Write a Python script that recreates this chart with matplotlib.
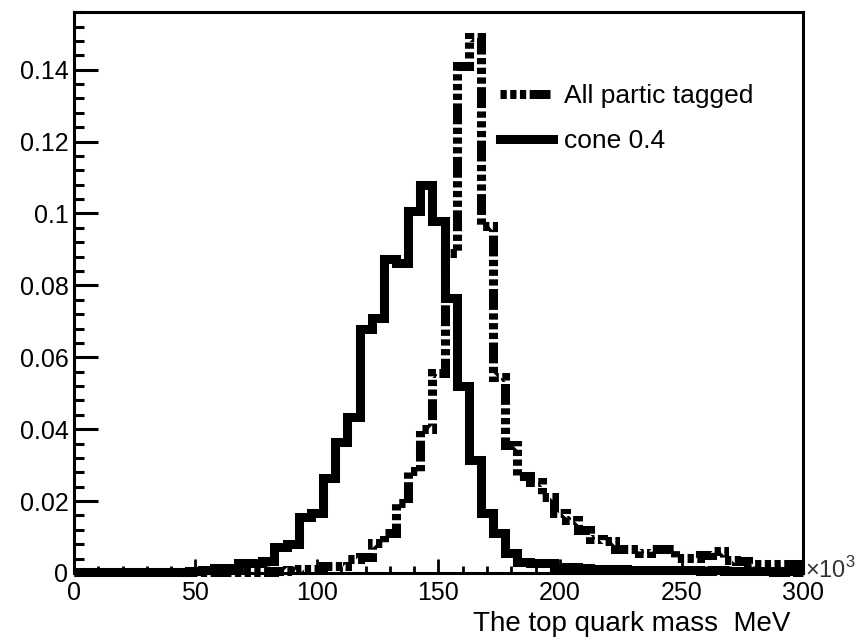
import numpy as np
import matplotlib
matplotlib.use("Agg")
import matplotlib.pyplot as plt
from matplotlib.ticker import MultipleLocator, FormatStrFormatter
from matplotlib.lines import Line2D

plt.rcParams['font.family'] = ['Liberation Sans', 'DejaVu Sans']
plt.rcParams['mathtext.fontset'] = 'custom'
plt.rcParams['mathtext.rm'] = 'Liberation Sans'
plt.rcParams['lines.scale_dashes'] = False

# bin edges (x in units of 10^3 MeV)
edges = [0.0] + [2.5 + 5 * i for i in range(60)] + [300.0]

all_partic = [
    0.0002, 0.0002, 0.0002, 0.0002, 0.0002, 0.0002, 0.0002, 0.0002, 0.0002, 0.0002,  # 0-45
    0.0002, 0.0003, 0.0003, 0.0003, 0.0003, 0.0004, 0.0004, 0.0005, 0.0008, 0.001,   # 50-95
    0.001, 0.002, 0.002, 0.004, 0.0045, 0.0083, 0.011, 0.0195, 0.0285, 0.040,       # 100-145
    0.0555, 0.089, 0.141, 0.149, 0.0965, 0.0546, 0.0357, 0.027, 0.0253, 0.021,      # 150-195
    0.0167, 0.0148, 0.012, 0.0095, 0.0088, 0.0067, 0.0067, 0.0055, 0.0066, 0.0066,  # 200-245
    0.0042, 0.0042, 0.005, 0.0062, 0.0035, 0.0032, 0.0025, 0.0025, 0.0025, 0.0025,  # 250-295
    0.0025,                                                                          # 300
]

cone04 = [
    0.0003, 0.0003, 0.0003, 0.0003, 0.0003, 0.0003, 0.0003, 0.0003, 0.0003, 0.0003,  # 0-45
    0.0005, 0.0008, 0.0014, 0.0014, 0.0028, 0.0028, 0.0034, 0.0073, 0.0082, 0.0156,  # 50-95
    0.0166, 0.0265, 0.0363, 0.0433, 0.068, 0.0708, 0.0873, 0.0863, 0.1007, 0.108,    # 100-145
    0.098, 0.0766, 0.052, 0.0315, 0.0166, 0.011, 0.0056, 0.003, 0.0029, 0.0029,      # 150-195
    0.0015, 0.0018, 0.0015, 0.0012, 0.001, 0.001, 0.0008, 0.0009, 0.0008, 0.0008,    # 200-245
    0.0007, 0.0008, 0.0006, 0.0008, 0.0006, 0.0005, 0.0006, 0.0005, 0.0004, 0.0005,  # 250-295
    0.0004,                                                                          # 300
]

labels = ["All partic tagged", "cone 0.4"]
xlabel = "The top quark mass  MeV"

fig = plt.figure(figsize=(8.57, 6.39), dpi=100)
ax = fig.add_axes([0.0863, 0.1033, 0.8507, 0.8777])

dashdot = (0, (4.5, 2.5, 4.5, 2.5, 4.5, 2.5, 15, 2.5))
ax.stairs(all_partic, edges, baseline=None, color='black', linewidth=6.5,
          linestyle=dashdot, clip_on=False, label=labels[0])
ax.stairs(cone04, edges, baseline=None, color='black', linewidth=6.5,
          linestyle='-', clip_on=False, label=labels[1])

ax.set_xlim(0, 300)
ax.set_ylim(0, 0.156)

for s in ax.spines.values():
    s.set_linewidth(2.2)

ax.xaxis.set_major_locator(MultipleLocator(50))
ax.xaxis.set_minor_locator(MultipleLocator(10))
ax.yaxis.set_major_locator(MultipleLocator(0.02))
ax.yaxis.set_minor_locator(MultipleLocator(0.004))
ax.yaxis.set_major_formatter(FormatStrFormatter('%g'))

ax.tick_params(axis='x', which='major', direction='in', length=10, width=2, labelsize=18, pad=6)
ax.tick_params(axis='x', which='minor', direction='in', length=5, width=2)
ax.tick_params(axis='y', which='major', direction='in', length=17, width=2.2, labelsize=18, pad=4)
ax.tick_params(axis='y', which='minor', direction='in', length=7.5, width=2.2)

ax.set_xlabel(xlabel, fontsize=20, loc='right')
ax.xaxis.set_label_coords(0.982, -0.068)

ax.text(1.003, 0.005, r'$\times10^{3}$', transform=ax.transAxes, fontsize=17,
        ha='left', va='center', color='#333333')

hl1 = Line2D([], [], color='black', linewidth=6.5, linestyle=dashdot)
hl2 = Line2D([], [], color='black', linewidth=6.5, linestyle='-')
ax.legend([hl1, hl2], labels, loc='upper left', bbox_to_anchor=(0.585, 0.872),
          frameon=False, fontsize=19, handlelength=2.0, handletextpad=0.4,
          labelspacing=0.8, borderaxespad=0.0, borderpad=0.0)

fig.savefig('out.png', dpi=100)
